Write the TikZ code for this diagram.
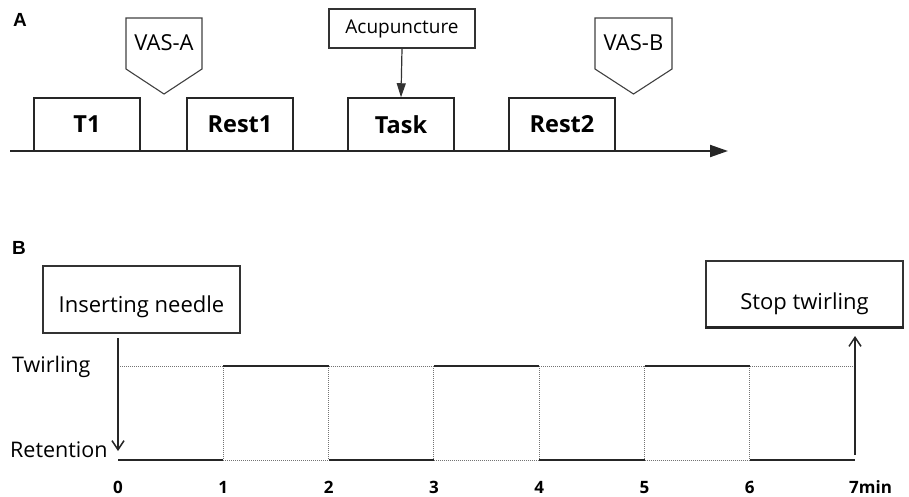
\documentclass[tikz,border=0pt]{standalone}
\usepackage{fontspec}
\setmainfont{Open Sans}
\newfontfamily\labfont{Liberation Sans}
\usetikzlibrary{arrows.meta}
\tikzset{
  stagebox/.style={draw=black!85, line width=1.5pt, minimum width=106pt, minimum height=53pt, inner sep=0pt, font=\fontsize{23.5}{26}\selectfont\bfseries},
  callout/.style={inner sep=0pt, font=\fontsize{22}{24}\selectfont},
  plainbox/.style={draw=black!80, line width=1.2pt, inner sep=0pt},
  sig/.style={line width=1.5pt, draw=black!85},
  dots/.style={line width=1pt, draw=black!55, dash pattern=on 1pt off 1pt},
  lvl/.style={inner sep=0pt, font=\fontsize{21.5}{24}\selectfont},
  tick/.style={inner sep=0pt, anchor=base, font=\fontsize{17}{20}\selectfont\bfseries},
  panel/.style={inner sep=0pt, font=\fontsize{19}{22}\selectfont\labfont\bfseries}
}
\begin{document}
\begin{tikzpicture}[x=1pt,y=-1pt]
\useasboundingbox (0,0) rectangle (909,496);
% ---------- Panel A ----------
\node[panel] (pa) at (20,20) {A};
\coordinate (ax0) at (10,151);
\coordinate (ax1) at (728,151);
\draw[line width=2pt, draw=black!85, -{Triangle[length=18pt,width=12pt]}] (ax0) -- (ax1);
\node[stagebox] (t1) at (87,124.5) {T1};
\node[stagebox] (rest1) at (240,124.5) {Rest1};
\node[stagebox] (task) at (401,124.5) {Task};
\node[stagebox] (rest2) at (562,124.5) {Rest2};
% VAS-A
\draw[line width=1.1pt, draw=black!75] (126,18) -- (202,18) -- (202,69) -- (164,94) -- (126,69) -- cycle;
\node[callout] (vasa) at (164,43) {VAS-A};
% VAS-B
\draw[line width=1.1pt, draw=black!75] (595,18) -- (672,18) -- (672,69) -- (633.5,94) -- (595,69) -- cycle;
\node[callout] (vasb) at (633.5,43) {VAS-B};
% Acupuncture
\node[plainbox, callout, minimum width=146pt, minimum height=39pt, font=\fontsize{19}{22}\selectfont] (acu) at (402,28.5) {Acupuncture};
\draw[line width=1.2pt, draw=black!80, -{Triangle[length=14pt,width=9pt]}] (acu.south) -- (task.north);
% ---------- Panel B ----------
\node[panel] (pb) at (19,248) {B};
\node[plainbox, minimum width=197pt, minimum height=67pt, text height=25pt, text depth=0pt, font=\fontsize{22}{26}\selectfont] (ins) at (141.5,299.5) {Inserting needle};
\node[plainbox, minimum width=197pt, minimum height=66pt, text height=30pt, text depth=0pt, font=\fontsize{22}{26}\selectfont] (stop) at (804.5,294) {Stop twirling};
\draw[line width=3pt, draw=black!85] (stop.south west) -- (stop.south east);
\node[lvl, anchor=west] (tw) at (12,367) {Twirling};
\node[lvl, anchor=west] (ret) at (10,450) {Retention};
% time coordinates
\foreach \i in {0,...,7} {
  \coordinate (T\i) at ({118+105.3*\i},366);
  \coordinate (R\i) at ({118+105.3*\i},460);
}
\foreach \i in {0,...,6} {
  \node[tick] (n\i) at ({118+105.3*\i},493) {\i};
}
\node[tick, anchor=base west] (n7) at (849,493) {7min};
% dotted parts
\draw[dots] (T0) -- (T1) (R1) -- (R2) (T2) -- (T3) (R3) -- (R4) (T4) -- (T5) (R5) -- (R6) (T6) -- (T7);
\foreach \i in {1,...,6} { \draw[dots] (T\i) -- (R\i); }
% solid parts
\draw[sig] (R0) -- (R1) (T1) -- (T2) (R2) -- (R3) (T3) -- (T4) (R4) -- (R5) (T5) -- (T6) (R6) -- (R7);
% arrows
\coordinate (dn0) at (118,338);
\coordinate (dn1) at (118,451);
\draw[sig, -{Straight Barb[length=9pt,width=12pt]}] (dn0) -- (dn1);
\coordinate (up0) at (855,455);
\coordinate (up1) at (855,336);
\draw[sig, -{Straight Barb[length=9pt,width=12pt]}] (up0) -- (up1);
\end{tikzpicture}
\end{document}
